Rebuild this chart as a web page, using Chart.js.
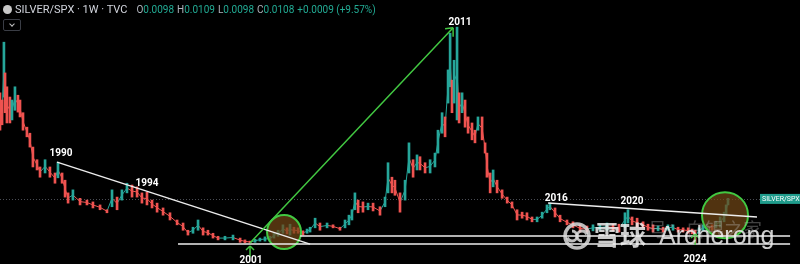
<!DOCTYPE html>
<html lang="en">
<head>
  <meta charset="UTF-8">
  <title>SILVER/SPX · 1W</title>
  <script src="https://cdn.jsdelivr.net/npm/chart.js"></script>
  <style>
    body {
      margin: 0;
      background: #000;
      font-family: Roboto, 'Noto Sans', sans-serif;
    }

    #wrap {
      position: relative;
      width: 800px;
      height: 264px;
      background: #000;
    }

    #hdr {
      position: absolute;
      left: 3px;
      top: 3px;
      font-size: 11px;
      line-height: 13px;
      color: #d1d4dc;
      white-space: nowrap;
    }

    #hdr .ico {
      display: inline-block;
      width: 9px;
      height: 9px;
      border-radius: 50%;
      background: #c8c8c8;
      vertical-align: -1px;
      margin-right: 3px;
    }

    #hdr .ohlc {
      margin-left: 9px;
      color: #b2b5be;
      font-size: 10px;
    }

    #hdr .ohlc b {
      font-weight: normal;
      color: #22ab94;
      margin-right: 3px;
    }

    #chev {
      position: absolute;
      left: 3px;
      top: 19px;
      width: 16px;
      height: 10px;
      border: 1px solid #3a3d45;
      border-radius: 2px;
    }

    #chev:after {
      content: '';
      position: absolute;
      left: 6px;
      top: 2px;
      width: 3px;
      height: 3px;
      border-right: 1px solid #c0c0c0;
      border-bottom: 1px solid #c0c0c0;
      transform: rotate(45deg);
    }
  </style>
</head>
<body>
  <div id="wrap">
    <canvas id="chart" width="800" height="264"></canvas>
    <div id="hdr"><span class="ico"></span>SILVER/SPX · 1W · TVC<span class="ohlc">O<b>0.0098</b>H<b>0.0109</b>L<b>0.0098</b>C<b>0.0108</b><b>+0.0009 (+9.57%)</b></span></div>
    <div id="chev"></div>
  </div>

  <script>
    // weekly SILVER/SPX (time in decimal years)
    const years = [
      1986.95, 1987.06, 1987.16, 1987.22, 1987.32, 1987.48, 1987.59, 1987.75, 1987.91, 1988.02,
      1988.18, 1988.39, 1988.55, 1988.71, 1988.93, 1989.09, 1989.36, 1989.62, 1989.89, 1990.05,
      1990.27, 1990.43, 1990.59, 1990.85, 1991.23, 1991.60, 1991.92, 1992.30, 1992.67, 1992.94,
      1993.21, 1993.47, 1993.74, 1994.01, 1994.28, 1994.54, 1994.81, 1995.08, 1995.35, 1995.67,
      1996.04, 1996.42, 1996.74, 1997.00, 1997.27, 1997.54, 1997.81, 1998.07, 1998.34, 1998.61,
      1998.98, 1999.41, 1999.79, 2000.05, 2000.32, 2000.59, 2000.85, 2001.12, 2001.39, 2001.60,
      2001.82, 2002.08, 2002.30, 2002.46, 2002.67, 2002.89, 2003.15, 2003.37, 2003.53, 2003.80,
      2004.06, 2004.44, 2004.76, 2005.13, 2005.40, 2005.61, 2005.77, 2005.93, 2006.10, 2006.36,
      2006.63, 2006.90, 2007.27, 2007.54, 2007.70, 2007.91, 2008.07, 2008.34, 2008.61, 2008.82,
      2009.04, 2009.25, 2009.41, 2009.68, 2009.95, 2010.21, 2010.37, 2010.59, 2010.75, 2010.91,
      2011.02, 2011.12, 2011.23, 2011.39, 2011.50, 2011.66, 2011.82, 2011.98, 2012.19, 2012.35,
      2012.51, 2012.73, 2012.89, 2012.99, 2013.16, 2013.32, 2013.53, 2013.80, 2014.07, 2014.33,
      2014.60, 2014.87, 2015.13, 2015.40, 2015.67, 2015.94, 2016.20, 2016.36, 2016.63, 2016.90,
      2017.27, 2017.59, 2017.97, 2018.34, 2018.66, 2019.03, 2019.41, 2019.73, 2020.05, 2020.37,
      2020.53, 2020.75, 2021.02, 2021.34, 2021.60, 2021.87, 2022.14, 2022.41, 2022.67, 2022.94,
      2023.21, 2023.48, 2023.75, 2023.96, 2024.12, 2024.33, 2024.55, 2024.76, 2025.03, 2025.24,
      2025.46, 2025.67, 2025.78, 2025.88
    ];
    const highs = [
      0.0284, 0.0272, 0.0368, 0.0317, 0.0294, 0.0277, 0.0272, 0.0294, 0.0280, 0.0272,
      0.0251, 0.0227, 0.0217, 0.0194, 0.0173, 0.0161, 0.0173, 0.0161, 0.0151, 0.0169,
      0.0151, 0.0139, 0.0118, 0.0123, 0.0109, 0.0106, 0.0103, 0.0098, 0.0090, 0.0123,
      0.0111, 0.0123, 0.0134, 0.0131, 0.0128, 0.0118, 0.0119, 0.0106, 0.0101, 0.0093,
      0.0085, 0.0073, 0.0068, 0.0056, 0.0061, 0.0073, 0.0060, 0.0056, 0.0051, 0.0046,
      0.0046, 0.0048, 0.0043, 0.0040, 0.0038, 0.0041, 0.0043, 0.0045, 0.0046, 0.0051,
      0.0056, 0.0065, 0.0060, 0.0066, 0.0061, 0.0060, 0.0055, 0.0058, 0.0061, 0.0076,
      0.0068, 0.0068, 0.0065, 0.0061, 0.0073, 0.0081, 0.0090, 0.0118, 0.0106, 0.0103,
      0.0101, 0.0101, 0.0095, 0.0111, 0.0168, 0.0144, 0.0139, 0.0118, 0.0139, 0.0201,
      0.0173, 0.0181, 0.0178, 0.0168, 0.0173, 0.0184, 0.0222, 0.0251, 0.0244, 0.0322,
      0.0383, 0.0305, 0.0338, 0.0393, 0.0284, 0.0284, 0.0272, 0.0244, 0.0234, 0.0222,
      0.0244, 0.0244, 0.0201, 0.0184, 0.0151, 0.0156, 0.0139, 0.0123, 0.0111, 0.0103,
      0.0090, 0.0086, 0.0085, 0.0078, 0.0078, 0.0086, 0.0098, 0.0101, 0.0093, 0.0081,
      0.0073, 0.0070, 0.0065, 0.0063, 0.0065, 0.0065, 0.0068, 0.0066, 0.0066, 0.0085,
      0.0090, 0.0078, 0.0076, 0.0070, 0.0066, 0.0065, 0.0063, 0.0061, 0.0065, 0.0065,
      0.0061, 0.0060, 0.0060, 0.0058, 0.0056, 0.0060, 0.0065, 0.0066, 0.0065, 0.0071,
      0.0078, 0.0086, 0.0098, 0.0109
    ];
    const lows = [
      0.0222, 0.0231, 0.0277, 0.0251, 0.0234, 0.0234, 0.0239, 0.0255, 0.0252, 0.0244,
      0.0222, 0.0211, 0.0194, 0.0161, 0.0156, 0.0144, 0.0151, 0.0144, 0.0134, 0.0143,
      0.0134, 0.0111, 0.0101, 0.0106, 0.0098, 0.0098, 0.0093, 0.0090, 0.0085, 0.0095,
      0.0090, 0.0106, 0.0118, 0.0111, 0.0111, 0.0101, 0.0098, 0.0093, 0.0086, 0.0081,
      0.0073, 0.0065, 0.0056, 0.0048, 0.0051, 0.0056, 0.0048, 0.0048, 0.0043, 0.0040,
      0.0040, 0.0040, 0.0036, 0.0035, 0.0035, 0.0036, 0.0038, 0.0038, 0.0038, 0.0043,
      0.0046, 0.0051, 0.0050, 0.0048, 0.0051, 0.0051, 0.0048, 0.0051, 0.0053, 0.0060,
      0.0056, 0.0060, 0.0060, 0.0056, 0.0060, 0.0065, 0.0073, 0.0090, 0.0085, 0.0086,
      0.0090, 0.0088, 0.0081, 0.0095, 0.0118, 0.0118, 0.0114, 0.0086, 0.0106, 0.0151,
      0.0144, 0.0156, 0.0156, 0.0151, 0.0151, 0.0161, 0.0184, 0.0217, 0.0211, 0.0267,
      0.0294, 0.0251, 0.0267, 0.0239, 0.0234, 0.0251, 0.0227, 0.0217, 0.0206, 0.0201,
      0.0222, 0.0206, 0.0184, 0.0144, 0.0118, 0.0128, 0.0118, 0.0109, 0.0101, 0.0093,
      0.0073, 0.0076, 0.0073, 0.0070, 0.0070, 0.0076, 0.0085, 0.0090, 0.0078, 0.0070,
      0.0065, 0.0060, 0.0053, 0.0053, 0.0055, 0.0056, 0.0056, 0.0055, 0.0053, 0.0061,
      0.0068, 0.0065, 0.0061, 0.0060, 0.0056, 0.0053, 0.0055, 0.0053, 0.0056, 0.0056,
      0.0053, 0.0053, 0.0051, 0.0050, 0.0035, 0.0051, 0.0055, 0.0056, 0.0056, 0.0060,
      0.0061, 0.0070, 0.0080, 0.0098
    ];
    const lastClose = 0.0108;

    // drawn lines, [year, value] pairs
    const whiteLines = [
      [[1990.0, 0.0169], [2003.53, 0.0033]],
      [[1996.47, 0.00332], [2029.2, 0.00332]],
      [[2003.0, 0.00464], [2029.2, 0.00464]],
      [[2016.26, 0.0101], [2027.43, 0.0078]]
    ];
    const greenLine = [[2000.32, 0.0035], [2011.18, 0.0392]];
    const circles = [[2002.14, 0.0053, 17], [2025.72, 0.0081, 23]];
    const upArrows = [[2000.32, 0.0030], [2024.12, 0.0050]];
    const yearLabels = ['1990', '1994', '2001', '2011', '2016', '2020', '2024'];
    const labelAt = [
      [1990.21, 0.0184], [1994.81, 0.0133], [2000.37, 0.0005], [2011.55, 0.0401],
      [2016.69, 0.0109], [2020.75, 0.0103], [2024.12, 0.0007]
    ];

    const UP = '#26a69a';
    const DOWN = '#ef5350';
    const GREEN = '#42c842';

    const candles = years.map((t, i) => ({ x: t, y: [lows[i], highs[i]] }));
    const mids = years.map((t, i) => ({ x: t, y: (lows[i] + highs[i]) / 2 }));
    const candleColors = years.map((t, i) => {
      if (i === 0) return DOWN;
      return mids[i].y >= mids[i - 1].y ? UP : DOWN;
    });

    function line(ctx, a, b) {
      ctx.beginPath();
      ctx.moveTo(a[0], a[1]);
      ctx.lineTo(b[0], b[1]);
      ctx.stroke();
    }

    const backdrop = {
      id: 'backdrop',
      beforeDatasetsDraw(chart) {
        const { ctx, scales: { y } } = chart;
        const py = Math.round(y.getPixelForValue(lastClose)) + 0.5;
        ctx.save();
        ctx.strokeStyle = '#4a4d55';
        ctx.lineWidth = 1;
        ctx.setLineDash([1, 2]);
        line(ctx, [0, py], [800, py]);
        ctx.restore();
      }
    };

    const overlay = {
      id: 'overlay',
      afterDatasetsDraw(chart) {
        const { ctx, scales: { x, y } } = chart;
        const p = v => [x.getPixelForValue(v[0]), y.getPixelForValue(v[1])];
        ctx.save();

        // circles
        circles.forEach(c => {
          const [cx, cy] = p(c);
          ctx.beginPath();
          ctx.arc(cx, cy, c[2], 0, Math.PI * 2);
          ctx.fillStyle = 'rgba(112,70,22,0.72)';
          ctx.fill();
          ctx.strokeStyle = GREEN;
          ctx.lineWidth = 2;
          ctx.stroke();
        });

        // white trend / support lines
        ctx.strokeStyle = '#ececec';
        ctx.lineWidth = 1.5;
        whiteLines.forEach(l => line(ctx, p(l[0]), p(l[1])));

        // green rally arrow
        ctx.strokeStyle = GREEN;
        ctx.lineWidth = 1.5;
        const g0 = p(greenLine[0]), g1 = p(greenLine[1]);
        line(ctx, g0, g1);
        line(ctx, g1, [g1[0] - 8, g1[1] + 1]);
        line(ctx, g1, [g1[0], g1[1] + 9]);

        upArrows.forEach(a => {
          const [ax, ay] = p(a);
          line(ctx, [ax, ay], [ax, ay + 11]);
          line(ctx, [ax, ay], [ax - 4, ay + 4]);
          line(ctx, [ax, ay], [ax + 4, ay + 4]);
        });

        // year labels
        ctx.fillStyle = '#fff';
        ctx.font = 'bold 10px Roboto, sans-serif';
        ctx.textAlign = 'center';
        ctx.textBaseline = 'middle';
        yearLabels.forEach((t, i) => {
          const [lx, ly] = p(labelAt[i]);
          ctx.fillText(t, lx, ly);
        });

        // last price tag
        const ty = y.getPixelForValue(lastClose);
        ctx.fillStyle = '#1f9c8c';
        ctx.fillRect(760, ty - 5, 40, 10);
        ctx.fillStyle = '#fff';
        ctx.font = '7px Roboto, sans-serif';
        ctx.textAlign = 'left';
        ctx.fillText('SILVER/SPX', 762, ty + 0.5);

        // watermark
        ctx.globalAlpha = 0.35;
        ctx.fillStyle = '#bbb';
        ctx.font = '19px "Noto Sans CJK SC", sans-serif';
        ctx.fillText('号：白银之家', 648, 230);
        ctx.globalAlpha = 0.85;
        ctx.strokeStyle = '#ddd';
        ctx.lineWidth = 3.5;
        ctx.beginPath();
        ctx.arc(577, 236, 12, 0, Math.PI * 2);
        ctx.stroke();
        ctx.lineWidth = 3;
        ctx.beginPath();
        ctx.arc(572, 236, 5, -Math.PI * 0.5, Math.PI * 0.9);
        ctx.stroke();
        ctx.beginPath();
        ctx.arc(582, 236, 5, Math.PI * 0.5, Math.PI * 1.9);
        ctx.stroke();
        ctx.fillStyle = '#f0f0f0';
        ctx.font = 'bold 26px "Noto Sans CJK SC", sans-serif';
        ctx.fillText('雪球', 594, 235);
        ctx.font = '25px "Liberation Sans", Arial, sans-serif';
        ctx.fillText('Archerong', 659, 237);
        ctx.restore();
      }
    };

    new Chart(document.getElementById('chart'), {
      type: 'bar',
      data: {
        datasets: [{
          type: 'line',
          data: mids,
          borderWidth: 1,
          pointRadius: 0,
          segment: { borderColor: c => candleColors[c.p1DataIndex] },
          order: 2
        }, {
          data: candles,
          backgroundColor: candleColors,
          borderWidth: 0,
          barThickness: 2,
          order: 1
        }]
      },
      options: {
        responsive: false,
        animation: false,
        layout: { padding: 0 },
        plugins: {
          legend: { display: false },
          tooltip: { enabled: false }
        },
        scales: {
          x: { type: 'linear', offset: false, min: 1986.95, max: 2029.73, display: false },
          y: { min: 0, max: 0.0438, display: false }
        }
      },
      plugins: [backdrop, overlay]
    });
  </script>
</body>
</html>
